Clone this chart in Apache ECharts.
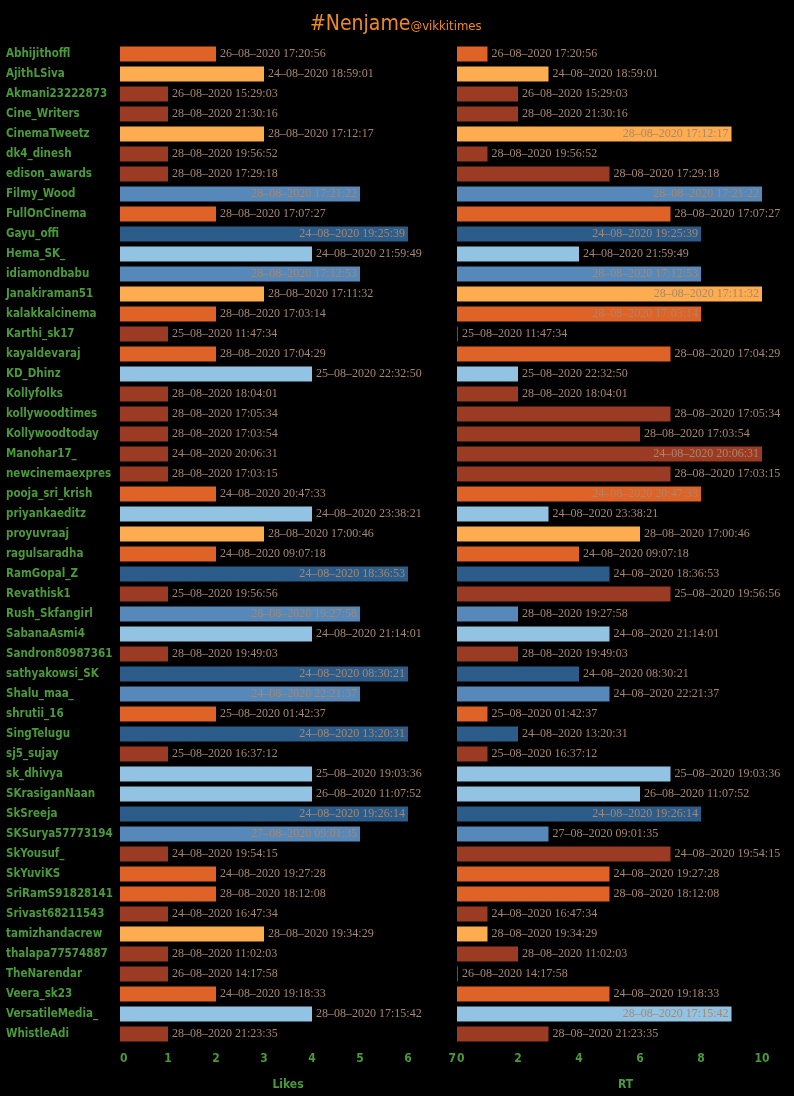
<!DOCTYPE html>
<html>
<head>
<meta charset="utf-8">
<script src="https://cdn.jsdelivr.net/npm/echarts@6/dist/echarts.min.js"></script>
<style>
html,body{margin:0;padding:0;background:#000;}
#c{width:794px;height:1096px;}
</style>
</head>
<body>
<div id="c"></div>
<script>
var names = ["Abhijithoffl","AjithLSiva","Akmani23222873","Cine_Writers","CinemaTweetz","dk4_dinesh","edison_awards","Filmy_Wood","FullOnCinema","Gayu_offi","Hema_SK_","idiamondbabu","Janakiraman51","kalakkalcinema","Karthi_sk17","kayaldevaraj","KD_Dhinz","Kollyfolks","kollywoodtimes","Kollywoodtoday","Manohar17_","newcinemaexpres","pooja_sri_krish","priyankaeditz","proyuvraaj","ragulsaradha","RamGopal_Z","Revathisk1","Rush_Skfangirl","SabanaAsmi4","Sandron80987361","sathyakowsi_SK","Shalu_maa_","shrutii_16","SingTelugu","sj5_sujay","sk_dhivya","SKrasiganNaan","SkSreeja","SKSurya57773194","SkYousuf_","SkYuviKS","SriRamS91828141","Srivast68211543","tamizhandacrew","thalapa77574887","TheNarendar","Veera_sk23","VersatileMedia_","WhistleAdi"];
var likes = [2,3,1,1,3,1,1,5,2,6,4,5,3,2,1,2,4,1,1,1,1,1,2,4,3,2,6,1,5,4,1,6,5,2,6,1,4,4,6,5,1,2,2,1,3,1,1,2,4,1];
var rts = [1,3,2,2,9,1,5,10,7,8,4,8,10,8,0,7,2,2,7,6,10,7,8,3,6,4,5,7,2,5,2,4,5,1,2,1,7,6,8,3,7,5,5,1,1,2,0,5,9,3];
var dates = ["26–08–2020 17:20:56","24–08–2020 18:59:01","26–08–2020 15:29:03","28–08–2020 21:30:16","28–08–2020 17:12:17","28–08–2020 19:56:52","28–08–2020 17:29:18","28–08–2020 17:21:22","28–08–2020 17:07:27","24–08–2020 19:25:39","24–08–2020 21:59:49","28–08–2020 17:12:53","28–08–2020 17:11:32","28–08–2020 17:03:14","25–08–2020 11:47:34","28–08–2020 17:04:29","25–08–2020 22:32:50","28–08–2020 18:04:01","28–08–2020 17:05:34","28–08–2020 17:03:54","24–08–2020 20:06:31","28–08–2020 17:03:15","24–08–2020 20:47:33","24–08–2020 23:38:21","28–08–2020 17:00:46","24–08–2020 09:07:18","24–08–2020 18:36:53","25–08–2020 19:56:56","28–08–2020 19:27:58","24–08–2020 21:14:01","28–08–2020 19:49:03","24–08–2020 08:30:21","24–08–2020 22:21:37","25–08–2020 01:42:37","24–08–2020 13:20:31","25–08–2020 16:37:12","25–08–2020 19:03:36","26–08–2020 11:07:52","24–08–2020 19:26:14","27–08–2020 09:01:35","24–08–2020 19:54:15","24–08–2020 19:27:28","28–08–2020 18:12:08","24–08–2020 16:47:34","28–08–2020 19:34:29","28–08–2020 11:02:03","26–08–2020 14:17:58","24–08–2020 19:18:33","28–08–2020 17:15:42","28–08–2020 21:23:35"];
var likeTicks = [0,1,2,3,4,5,6,7];
var rtTicks = [0,2,4,6,8,10];

var palette = {1:"#9c3b23",2:"#df6226",3:"#fdad50",4:"#93c3e2",5:"#5688ba",6:"#2c5c8a"};
var labelColor = "#a8876e";
var green = "#4a9a3a";

function build(vals, insideFrom){
  return vals.map(function(v,i){
    var inside = v >= insideFrom;
    return {
      value: v,
      itemStyle: {color: palette[likes[i]]},
      label: {position: inside ? 'insideRight' : 'right', distance: inside ? 3 : 4}
    };
  });
}

var lab = {show:true, formatter:function(p){return dates[p.dataIndex];}, color:labelColor, fontFamily:"Liberation Serif", fontSize:12};

var chart = echarts.init(document.getElementById('c'));
chart.setOption({
  backgroundColor:"#000",
  animation:false,
  title:{
    left:305, top:9,
    text:"{a|#Nenjame}{b|@vikkitimes}",
    textStyle:{rich:{
      a:{fontSize:21, color:"#f08a24", fontFamily:"DejaVu Sans Condensed", fontWeight:'normal'},
      b:{fontSize:13, color:"#f08a24", fontFamily:"DejaVu Sans Condensed", fontWeight:'normal', padding:[5,0,0,0]}
    }}
  },
  grid:[
    {left:120, width:336, top:44, height:1000},
    {left:457, width:305, top:44, height:1000}
  ],
  xAxis:[
    {gridIndex:0, type:'value', min:0, max:7, interval:1,
     axisLine:{show:false}, axisTick:{show:false}, splitLine:{show:false},
     axisLabel:{color:green, fontWeight:'bold', fontSize:12, fontFamily:"DejaVu Sans Condensed", margin:9,
       alignMinLabel:'left', alignMaxLabel:'right',
       formatter:function(v){return likeTicks.indexOf(v)>=0?String(v):'';}},
     name:"Likes", nameLocation:'middle', nameGap:35,
     nameTextStyle:{color:green, fontWeight:'bold', fontSize:12, fontFamily:"DejaVu Sans Condensed"}},
    {gridIndex:1, type:'value', min:0, max:10, interval:2,
     axisLine:{show:false}, axisTick:{show:false}, splitLine:{show:false},
     axisLabel:{color:green, fontWeight:'bold', fontSize:12, fontFamily:"DejaVu Sans Condensed", margin:9,
       alignMinLabel:'left',
       formatter:function(v){return rtTicks.indexOf(v)>=0?String(v):'';}},
     name:"RT", nameLocation:'middle', nameGap:35,
     nameTextStyle:{color:green, fontWeight:'bold', fontSize:12, fontFamily:"DejaVu Sans Condensed", padding:[0,0,0,32]}}
  ],
  yAxis:[
    {gridIndex:0, type:'category', data:names, inverse:true,
     axisLine:{show:false}, axisTick:{show:false},
     axisLabel:{align:'left', margin:114, color:green, fontWeight:'bold', fontSize:11.5, fontFamily:"DejaVu Sans Condensed"}},
    {gridIndex:1, type:'category', data:names, inverse:true,
     axisLine:{show:false}, axisTick:{show:false}, axisLabel:{show:false}}
  ],
  series:[
    {type:'bar', xAxisIndex:0, yAxisIndex:0, data:build(likes,5), barCategoryGap:'25%', label:lab},
    {type:'bar', xAxisIndex:1, yAxisIndex:1, data:build(rts,8), barCategoryGap:'25%', barMinHeight:1, label:lab}
  ]
});
</script>
</body>
</html>
